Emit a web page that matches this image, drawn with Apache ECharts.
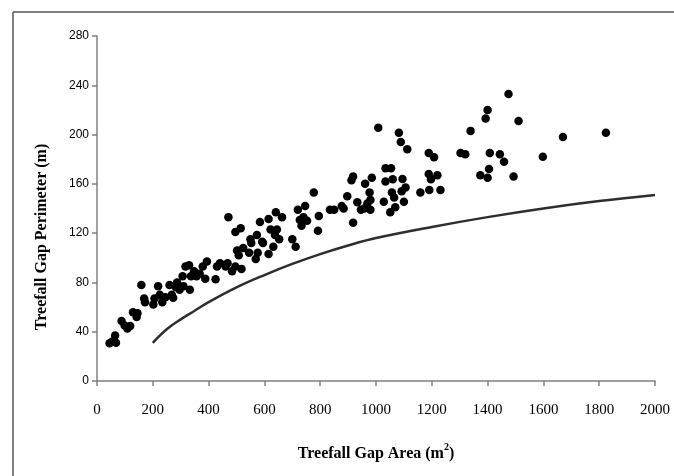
<!DOCTYPE html>
<html>
<head>
<meta charset="utf-8">
<script src="https://cdn.jsdelivr.net/npm/echarts@6/dist/echarts.min.js"></script>
<style>
  html, body { margin: 0; padding: 0; background: #fff; }
  #main { width: 674px; height: 476px; }
</style>
</head>
<body>
<div id="main"></div>
<script>
// gap area (m2) and perimeter (m)
const gapArea = [45, 55, 65, 68, 88, 99, 109, 119, 129, 142, 145, 159, 169, 172, 202, 206, 219, 225, 234, 245,
  260, 268, 273, 283, 287, 296, 307, 310, 317, 330, 333, 337, 348, 357, 368, 379, 388, 394, 425, 430,
  441, 461, 471, 468, 484, 496, 496, 502, 508, 515, 518, 524, 545, 550, 553, 569, 573, 576, 584, 592,
  595, 615, 615, 622, 632, 638, 641, 645, 653, 663, 700, 712, 720, 727, 733, 740, 746, 753, 777, 792,
  795, 835, 850, 877, 884, 897, 912, 918, 918, 933, 946, 958, 961, 969, 977, 980, 980, 985, 1008, 1028,
  1034, 1034, 1051, 1054, 1057, 1060, 1065, 1069, 1082, 1089, 1092, 1095, 1100, 1106, 1112, 1159, 1189, 1189, 1191, 1197,
  1208, 1220, 1231, 1303, 1320, 1339, 1374, 1393, 1400, 1400, 1405, 1408, 1444, 1459, 1475, 1493, 1511, 1598, 1670, 1824];
const gapPerimeter = [30.6, 32, 37, 31, 48.7, 45, 42.7, 44.6, 55.7, 52, 55, 78, 67, 64, 62, 67, 77, 70, 64, 68,
  78, 70, 67.6, 76, 80, 74, 85, 77, 93, 94, 74, 85, 89, 85, 87, 93, 83, 97, 82.5, 93,
  95.5, 93, 133, 95.5, 89, 121, 93, 106, 102, 124, 91, 108, 104, 115, 112, 99, 118.5, 104, 129, 113,
  112, 131.5, 103, 123, 109, 118.5, 137, 123, 115, 133, 115, 109, 139, 130.7, 126, 133, 142, 130, 153, 122,
  134, 139, 139, 142, 140, 150, 163, 166, 128.5, 145, 139, 140, 160, 144, 153, 147, 139, 165, 205.6, 145.5,
  172.6, 162, 137, 172.6, 153, 163.7, 149, 141, 201.5, 194, 154, 164, 145.5, 157, 188, 153, 185, 168, 155, 163.7,
  181.5, 167, 155, 185, 184, 203, 167, 213, 220, 165, 172, 185, 184, 178, 233, 166, 211, 182, 198, 201.5];

// reference curve
const curveArea = [200, 250, 300, 350, 400, 500, 600, 700, 800, 900, 1000, 1200, 1400, 1600, 1800, 2000];
const curvePerimeter = [31, 42, 50, 57, 64, 76, 86, 95, 103, 110, 116, 125, 133, 140, 146, 151];

const xTicks = [0, 200, 400, 600, 800, 1000, 1200, 1400, 1600, 1800, 2000];
const yTicks = [0, 40, 80, 120, 160, 200, 240, 280];

const chart = echarts.init(document.getElementById('main'), null, { renderer: 'canvas' });

const axisGrey = '#808080';
const serif = '"Liberation Serif", "DejaVu Serif", serif';
const sans = '"Liberation Sans", Arial, sans-serif';

chart.setOption({
  animation: false,
  backgroundColor: '#fff',
  grid: { left: 97, right: 19, top: 36, bottom: 95 },
  xAxis: {
    type: 'value',
    min: xTicks[0],
    max: xTicks[xTicks.length - 1],
    interval: 200,
    splitLine: { show: false },
    axisLine: { lineStyle: { color: axisGrey, width: 1.5 } },
    axisTick: { show: true, length: 5, lineStyle: { color: axisGrey, width: 1.5 } },
    axisLabel: { margin: 22, fontFamily: serif, fontSize: 15, color: '#000', formatter: v => String(v) }
  },
  yAxis: {
    type: 'value',
    min: yTicks[0],
    max: yTicks[yTicks.length - 1],
    interval: 40,
    splitLine: { show: false },
    axisLine: { show: true, lineStyle: { color: axisGrey, width: 1.5 } },
    axisTick: { show: true, length: 5, lineStyle: { color: axisGrey, width: 1.5 } },
    axisLabel: { margin: 8, fontFamily: sans, fontSize: 12, color: '#000', formatter: v => String(v) }
  },
  series: [
    {
      type: 'scatter',
      data: gapArea.map((a, i) => [a, gapPerimeter[i]]),
      symbol: 'circle',
      symbolSize: 8.5,
      itemStyle: { color: '#000', opacity: 1 },
      z: 3
    },
    {
      type: 'line',
      data: curveArea.map((a, i) => [a, curvePerimeter[i]]),
      smooth: 0.4,
      showSymbol: false,
      lineStyle: { color: '#2e2e2e', width: 2.5 },
      z: 2
    }
  ],
  graphic: [
    { type: 'line', shape: { x1: 13, y1: 12, x2: 13, y2: 476 }, style: { stroke: '#555', lineWidth: 1.5 } },
    { type: 'line', shape: { x1: 13, y1: 12, x2: 674, y2: 12 }, style: { stroke: '#555', lineWidth: 1.5 } },
    {
      type: 'text', x: 376, y: 452,
      style: {
        text: '{t|Treefall Gap Area (m}{s|2}{t|)}',
        rich: {
          t: { font: 'bold 16px ' + serif, fill: '#000', verticalAlign: 'bottom', lineHeight: 20 },
          s: { font: 'bold 10px ' + serif, fill: '#000', verticalAlign: 'top', lineHeight: 20, padding: [0, 0, 8, 0] }
        },
        textAlign: 'center', textVerticalAlign: 'middle'
      }
    },
    {
      type: 'text', x: 42, y: 237, rotation: Math.PI / 2,
      style: {
        text: 'Treefall Gap Perimeter (m)',
        font: 'bold 16px ' + serif, fill: '#000',
        textAlign: 'center', textVerticalAlign: 'middle'
      }
    }
  ]
});
</script>
</body>
</html>
